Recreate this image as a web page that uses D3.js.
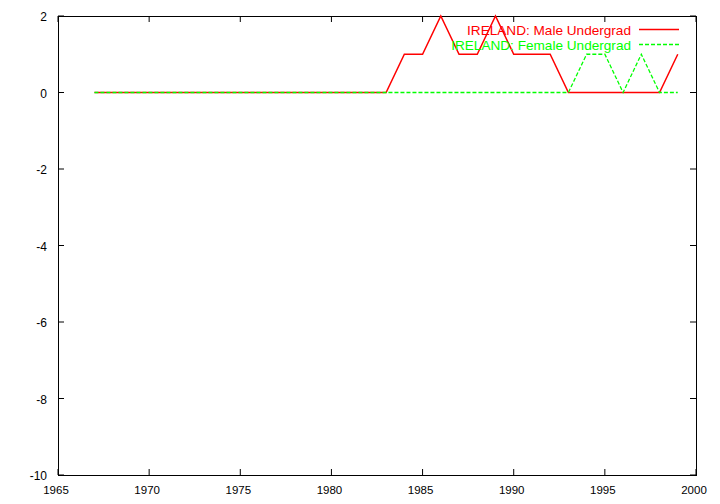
<!DOCTYPE html>
<html><head><meta charset="utf-8">
<script src="https://cdn.jsdelivr.net/npm/d3@7"></script>
<style>body{margin:0;background:#fff}svg{display:block}text{font-family:"Liberation Sans",Arial,sans-serif;font-size:12px}</style>
</head><body>
<script>
const years = d3.range(1967, 2000);
const maleUndergrad =   [0,0,0,0,0,0,0,0,0,0,0,0,0,0,0,0,0,1,1,2,1,1,2,1,1,1,0,0,0,0,0,0,1];
const femaleUndergrad = [0,0,0,0,0,0,0,0,0,0,0,0,0,0,0,0,0,0,0,0,0,0,0,0,0,0,0,1,1,0,1,0,0];
const xTicks = [1965,1970,1975,1980,1985,1990,1995,2000];
const yTicks = [2,0,-2,-4,-6,-8,-10];
const seriesNames = ["IRELAND: Male Undergrad","IRELAND: Female Undergrad"];

const W=720,H=504, L=58,R=696,T=16,B=475;
const svg=d3.select("body").append("svg").attr("width",W).attr("height",H);
const x=d3.scaleLinear().domain([1965,2000]).range([L,R]);
const y=d3.scaleLinear().domain([-10,2]).range([B,T]);

const g=svg.append("g");
xTicks.forEach(t=>{
  g.append("line").attr("x1",x(t)).attr("x2",x(t)).attr("y1",B).attr("y2",B-6).attr("stroke","#000");
  g.append("line").attr("x1",x(t)).attr("x2",x(t)).attr("y1",T).attr("y2",T+6).attr("stroke","#000");
  g.append("text").attr("x",x(t)-2).attr("y",B+19).attr("text-anchor","middle").style("font-size","11.5px").text(t);
});
yTicks.forEach(t=>{
  g.append("line").attr("x1",L).attr("x2",L+6).attr("y1",y(t)).attr("y2",y(t)).attr("stroke","#000");
  g.append("line").attr("x1",R).attr("x2",R-6).attr("y1",y(t)).attr("y2",y(t)).attr("stroke","#000");
  g.append("text").attr("x",L-11).attr("y",y(t)+5).attr("text-anchor","end").style("font-size","12px").text(t);
});
svg.append("rect").attr("x",L+0.5).attr("y",T+0.5).attr("width",R-L).attr("height",B-T).attr("fill","none").attr("stroke","#000");

const line=d3.line().x((d,i)=>x(years[i])).y(d=>y(d));
svg.append("path").datum(maleUndergrad).attr("d",line).attr("fill","none").attr("stroke","#ff0000").attr("stroke-width",1.5);
svg.append("path").datum(femaleUndergrad).attr("d",line).attr("fill","none").attr("stroke","#00ff00").attr("stroke-width",1.3).attr("stroke-dasharray","4,2");

const leg=[{c:"#ff0000",d:null},{c:"#00ff00",d:"4,2"}];
leg.forEach((s,i)=>{
  const ly=29.5+i*15;
  svg.append("text").attr("x",631).attr("y",ly+5).attr("text-anchor","end").attr("fill",s.c).style("font-size","13.6px").text(seriesNames[i]);
  const l=svg.append("line").attr("x1",639).attr("x2",679).attr("y1",ly).attr("y2",ly).attr("stroke",s.c).attr("stroke-width",i?1.3:1.5);
  if(s.d) l.attr("stroke-dasharray",s.d);
});
</script>
</body></html>
